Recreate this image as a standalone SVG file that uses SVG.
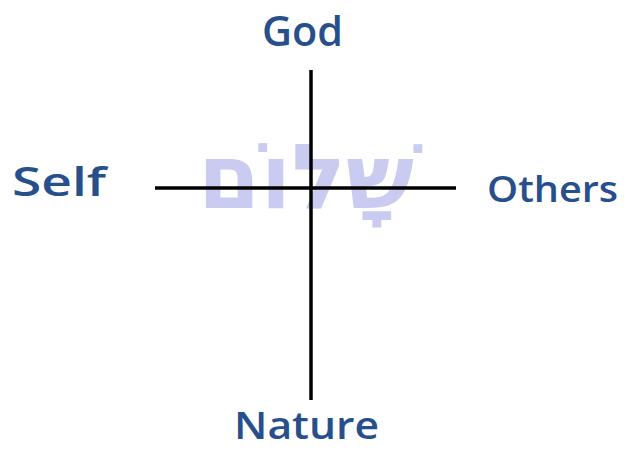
<svg xmlns="http://www.w3.org/2000/svg" width="626" height="450" viewBox="0 0 626 450">
<style>
.lbl{font-family:"Open Sans","Liberation Sans",sans-serif;fill:#274f8b;font-weight:600}
.ax{stroke:#000;stroke-width:3.5;fill:none}
</style>
<rect width="626" height="450" fill="#fff"/>
<g id="shalom">
<text x="306" y="208" font-family="'DejaVu Sans',sans-serif" font-weight="bold" font-size="90" fill="#c9cbf1" text-anchor="middle">שָׁלוֹם</text>
</g>
<g id="connectors">
<line class="ax" x1="155" y1="188" x2="456" y2="188"/>
<line class="ax" x1="311" y1="70" x2="311" y2="400"/>
</g>
<g id="god"><text class="lbl" x="262" y="46" font-size="41" textLength="81" lengthAdjust="spacingAndGlyphs">God</text></g>
<g id="self"><text class="lbl" x="12" y="196" font-size="40" textLength="94" lengthAdjust="spacingAndGlyphs">Self</text></g>
<g id="others"><text class="lbl" x="487" y="202" font-size="36" textLength="131" lengthAdjust="spacingAndGlyphs">Others</text></g>
<g id="nature"><text class="lbl" x="234" y="439" font-size="37" textLength="145" lengthAdjust="spacingAndGlyphs">Nature</text></g>
</svg>
